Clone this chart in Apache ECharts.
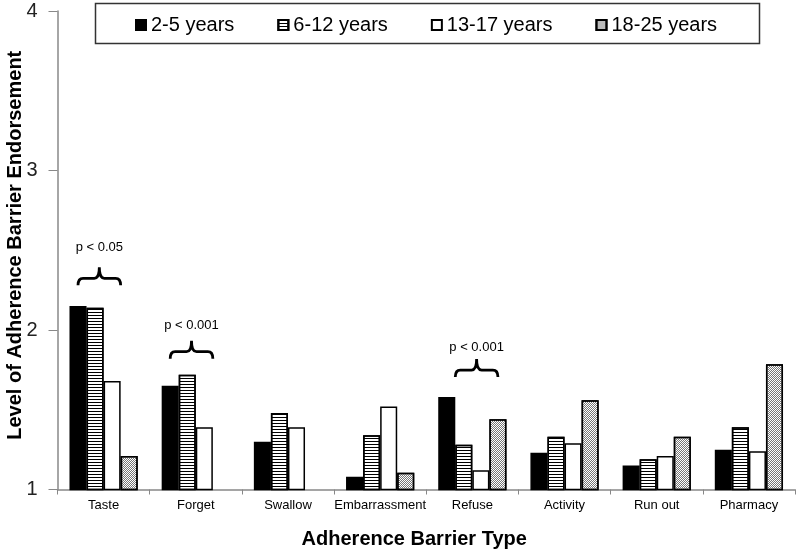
<!DOCTYPE html>
<html>
<head>
<meta charset="utf-8">
<script src="https://cdn.jsdelivr.net/npm/echarts@6/dist/echarts.min.js"></script>
<style>html,body{margin:0;padding:0;background:#fff}#c{width:800px;height:557px}</style>
</head>
<body>
<div id="c"></div>
<script>
const categories = ['Taste','Forget','Swallow','Embarrassment','Refuse','Activity','Run out','Pharmacy'];
const seriesNames = ['2-5 years','6-12 years','13-17 years','18-25 years'];
const age2to5   = [2.15, 1.65, 1.30, 1.08, 1.58, 1.23, 1.15, 1.25];
const age6to12  = [2.14, 1.72, 1.48, 1.34, 1.28, 1.33, 1.19, 1.39];
const age13to17 = [1.68, 1.39, 1.39, 1.52, 1.12, 1.29, 1.21, 1.24];
const age18to25 = [1.21, null, null, 1.105, 1.44, 1.56, 1.33, 1.785];
const yTicks = [1, 2, 3, 4];
// significance brackets: category index, brace base level, label level, first bar, last bar, label
const bracketCats = [0, 1, 4];
const bracketBase = [2.28, 1.82, 1.705];
const bracketTextLevel = [2.52, 2.03, 1.89];
const bracketFrom = [0, 0, 0.5];
const bracketTo = [2.5, 2.5, 3];
const bracketLabels = ['p < 0.05', 'p < 0.001', 'p < 0.001'];

const FONT = "'Liberation Sans', Arial, sans-serif";
const GAP = 0.26;
const chart = echarts.init(document.getElementById('c'), null, {renderer: 'canvas'});

const styles = [
  {color: '#000', borderColor: '#000', borderWidth: 1.5},
  {color: '#fff', borderColor: '#000', borderWidth: 1.5,
   decal: {symbol: 'rect', symbolSize: 1, symbolKeepAspect: false, color: '#000',
           dashArrayX: [10, 0], dashArrayY: [1, 2], rotation: 0}},
  {color: '#fff', borderColor: '#000', borderWidth: 1.5},
  {color: '#fff', borderColor: '#000', borderWidth: 1.5,
   decal: {symbol: 'rect', symbolSize: 1, symbolKeepAspect: false, color: '#777',
           dashArrayX: [[1, 1], [0, 1, 1, 0]], dashArrayY: [1, 0], rotation: 0}}
];
const dataArr = [age2to5, age6to12, age13to17, age18to25];

const bars = seriesNames.map((n, i) => ({
  name: n, type: 'bar', data: dataArr[i],
  barGap: '0%', barCategoryGap: (GAP * 100) + '%',
  itemStyle: styles[i]
}));

const bracketData = bracketCats.map((c, i) => [c, bracketBase[i], bracketTextLevel[i], bracketFrom[i], bracketTo[i]]);

bars.push({
  type: 'custom', name: 'brackets', z: 5, silent: true,
  data: bracketData,
  renderItem: function (params, api) {
    const base = api.coord([api.value(0), api.value(1)]);
    const txt = api.coord([api.value(0), api.value(2)]);
    const band = api.size([1, 0])[0];
    const bw = band * (1 - GAP) / 4;
    const x0 = base[0] + (api.value(3) - 1.5) * bw;
    const x1 = base[0] + (api.value(4) - 1.5) * bw;
    const xm = (x0 + x1) / 2;
    const yb = base[1], yl = yb - 7, yt = yb - 18;
    const p = `M${x0} ${yb} Q${x0} ${yl} ${x0 + 5} ${yl} L${xm - 5} ${yl} Q${xm} ${yl} ${xm} ${yt} Q${xm} ${yl} ${xm + 5} ${yl} L${x1 - 5} ${yl} Q${x1} ${yl} ${x1} ${yb}`;
    return {
      type: 'group',
      children: [
        {type: 'path', shape: {pathData: p}, style: {fill: 'none', stroke: '#000', lineWidth: 2.8}},
        {type: 'text', x: xm, y: txt[1], style: {text: bracketLabels[params.dataIndex], fill: '#000',
          font: '13px ' + FONT, align: 'center', verticalAlign: 'middle'}}
      ]
    };
  }
});

chart.setOption({
  animation: false,
  backgroundColor: '#fff',
  textStyle: {fontFamily: FONT},
  grid: {left: 57.5, right: 5, top: 11, bottom: 67.5, containLabel: false, outerBoundsMode: 'none'},
  legend: {
    data: seriesNames, icon: 'rect', left: 130, top: 10, itemWidth: 10, itemHeight: 10, itemGap: 43,
    textStyle: {fontSize: 20, color: '#000', fontFamily: FONT},
    selectedMode: false
  },
  graphic: [{type: 'rect', left: 93, top: 1, shape: {width: 664, height: 40},
    style: {fill: 'none', stroke: '#333', lineWidth: 1.5}, z: 100}],
  xAxis: {
    type: 'category', data: categories,
    axisLine: {lineStyle: {color: '#888', width: 1.5}},
    axisTick: {show: true, length: 5, lineStyle: {color: '#888'}},
    axisLabel: {fontSize: 13, color: '#000', margin: 9, fontFamily: FONT, interval: 0},
    name: 'Adherence Barrier Type', nameLocation: 'middle', nameGap: 40, nameMoveOverlap: false,
    nameTextStyle: {fontSize: 20, fontWeight: 'bold', color: '#000', fontFamily: FONT, padding: [0, 24, 0, 0]}
  },
  yAxis: {
    type: 'value', min: 1, max: 4, interval: 1,
    axisLine: {show: true, lineStyle: {color: '#888', width: 1.5}},
    axisTick: {show: true, length: 9, lineStyle: {color: '#888'}},
    splitLine: {show: false},
    axisLabel: {fontSize: 20, color: '#222', margin: 20, fontFamily: FONT,
      formatter: v => yTicks.includes(v) ? String(v) : ''},
    name: 'Level of Adherence Barrier Endorsement', nameLocation: 'middle', nameGap: 32, nameMoveOverlap: false,
    nameTextStyle: {fontSize: 20, fontWeight: 'bold', color: '#000', fontFamily: FONT, padding: [0, 0, 0, 10]}
  },
  series: bars
});
</script>
</body>
</html>
